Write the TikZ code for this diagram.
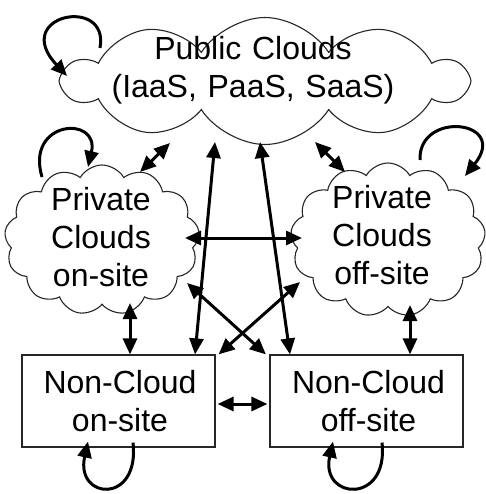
\documentclass[tikz,border=0pt]{standalone}
\usepackage{fontspec}
\setmainfont{Liberation Sans}
\usetikzlibrary{shapes.symbols,arrows.meta,calc}
\begin{document}
\begin{tikzpicture}[x=1pt,y=-1pt,
  cloudnode/.style={cloud, draw=black!85, line width=1.1pt, cloud ignores aspect, inner sep=0pt},
  boxnode/.style={draw=black!85, line width=1.2pt, rectangle, inner sep=0pt, minimum width=193pt, minimum height=92pt},
  label/.style={text width=320pt, align=center, anchor=base, inner sep=0pt, font=\fontsize{32}{38}\selectfont},
  conn/.style={line width=3pt, {Triangle[length=16pt,width=14pt]}-{Triangle[length=16pt,width=14pt]}},
  loopc/.style={line width=3pt, -{Triangle[length=16pt,width=14pt]}}]
\useasboundingbox (0,0) rectangle (485,494);
% clouds
\node[cloudnode, cloud puffs=10, cloud puff arc=115, minimum width=402pt, minimum height=127pt] (pub) at (265,81) {};
\node[cloudnode, cloud puffs=13, cloud puff arc=120, minimum width=195pt, minimum height=150pt] (pon) at (102,240) {};
\node[cloudnode, cloud puffs=13, cloud puff arc=120, minimum width=195pt, minimum height=154pt] (poff) at (388,240) {};
% boxes
\node[boxnode] (non) at (118.5,401) {};
\node[boxnode] (noff) at (366.5,401) {};
% labels
\node[label] (pubt) at (253,60) {Public Clouds\\(IaaS, PaaS, SaaS)};
\node[label] (pont) at (101,210) {Private\\Clouds\\on-site};
\node[label] (pofft) at (382,208) {Private\\Clouds\\off-site};
\node[label] (nont) at (120,393) {Non-Cloud\\on-site};
\node[label] (nofft) at (368.5,393) {Non-Cloud\\off-site};
% connectors
\draw[conn] ($(pub)+(-95,62)$) -- ($(pon)+(38,-68)$);
\draw[conn] ($(pub)+(50,61)$) -- ($(poff)+(-43,-68)$);
\draw[conn] ($(pub)+(-50,61)$) -- ([xshift=76.5pt]non.north);
\draw[conn] ($(pub)+(-5,61)$) -- ([xshift=-76.5pt]noff.north);
\draw[conn] ($(pon)+(83,-2)$) -- ($(poff)+(-86,-2)$);
\draw[conn] ($(pon)+(85,43)$) -- ([xshift=-3.5pt]noff.north west);
\draw[conn] ($(poff)+(-88,42)$) -- ([xshift=3pt]non.north east);
\draw[conn] ($(pon)+(28,63)$) -- ([xshift=11.5pt]non.north);
\draw[conn] ($(poff)+(22,65)$) -- ([xshift=43.5pt]noff.north);
\draw[conn] ([xshift=2pt,yshift=-3pt]non.east) -- ([xshift=-2pt,yshift=-3pt]noff.west);
% self loops
\draw[loopc] ($(pub)+(-165,-33)$) .. controls (110,-5) and (10,15) .. ($(pub)+(-198,-5)$);
\draw[loopc] ($(pon)+(-60,-63)$) .. controls (25,120) and (100,115) .. ($(pon)+(-14,-73)$);
\draw[loopc] ($(poff)+(32,-80)$) .. controls (418,110) and (510,120) .. ($(poff)+(77,-64)$);
\draw[loopc] ([xshift=14.5pt,yshift=5pt]non.south) .. controls (140,505) and (75,500) .. ([xshift=-30.5pt,yshift=6pt]non.south);
\draw[loopc] ([xshift=15.5pt,yshift=5pt]noff.south) .. controls (389,505) and (320,500) .. ([xshift=-33.5pt,yshift=6pt]noff.south);
\end{tikzpicture}
\end{document}
